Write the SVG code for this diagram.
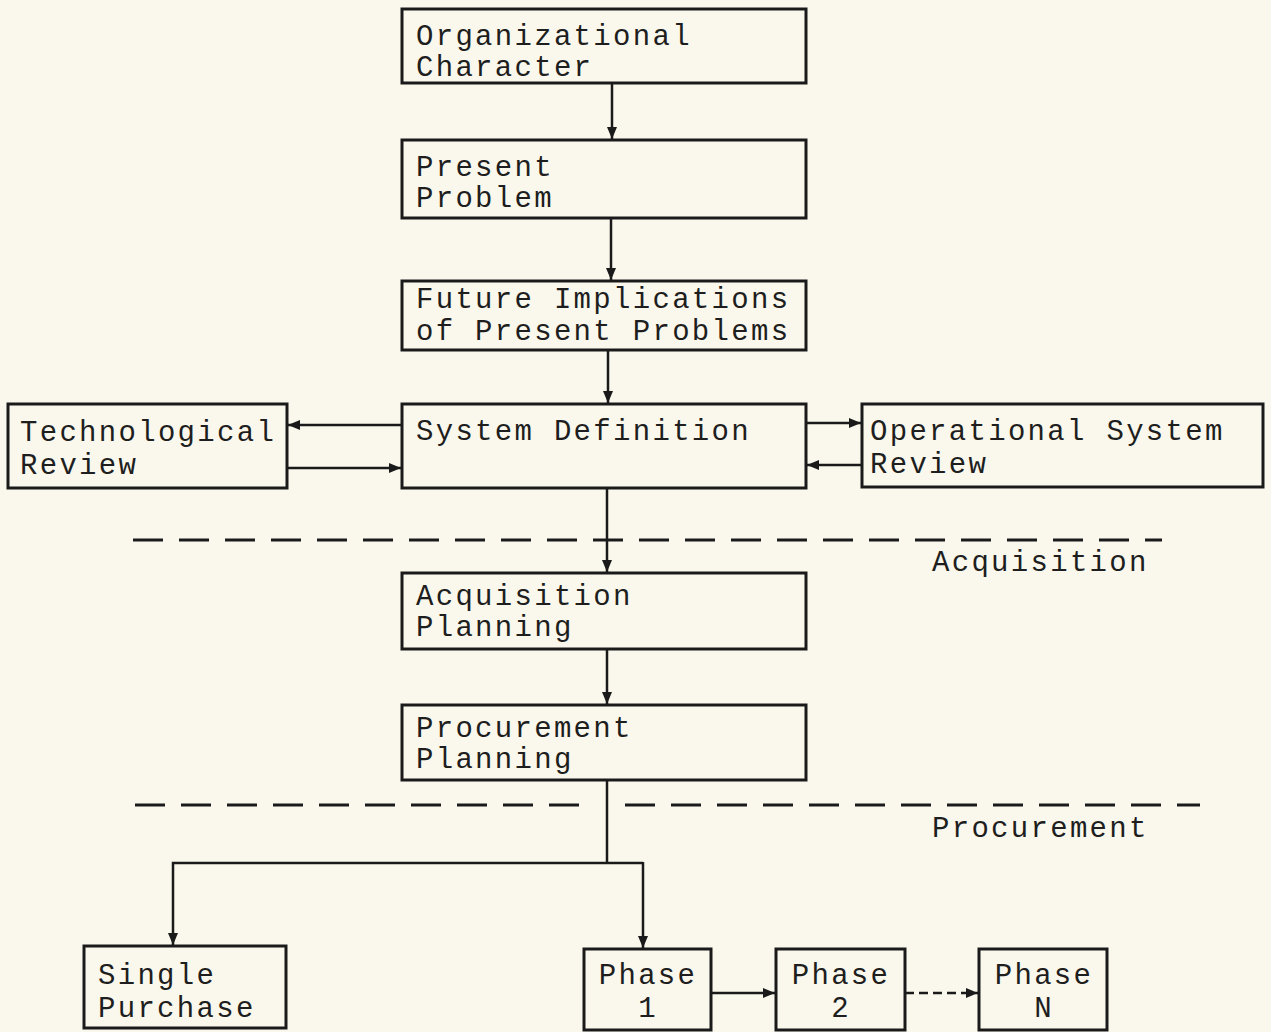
<svg xmlns="http://www.w3.org/2000/svg" width="1271" height="1032" viewBox="0 0 1271 1032">
<style>
.bg{fill:#faf8ec}
.box{fill:none;stroke:#1a1a1a;stroke-width:3}
.t{font-family:"Liberation Mono","DejaVu Sans Mono",monospace;font-size:29px;letter-spacing:2.3px;fill:#1e1e1e}
.c{text-anchor:middle}
.ln{fill:none;stroke:#1a1a1a;stroke-width:2.5}
.dash{fill:none;stroke:#1a1a1a;stroke-width:3;stroke-dasharray:30 16}
</style>
<defs>
<marker id="ah" viewBox="0 0 12 10" refX="12" refY="5" markerWidth="12" markerHeight="10" markerUnits="userSpaceOnUse" orient="auto">
<path d="M0,0 L12,5 L0,10 Z" fill="#1a1a1a"/>
</marker>
</defs>
<rect class="bg" x="0" y="0" width="1271" height="1032"/>

<g id="n-org"><rect class="box" x="402" y="9" width="404" height="74"/><text class="t" x="416" y="45">Organizational</text><text class="t" x="416" y="76">Character</text></g>
<g id="n-present"><rect class="box" x="402" y="140" width="404" height="78"/><text class="t" x="416" y="176">Present</text><text class="t" x="416" y="207">Problem</text></g>
<g id="n-future"><rect class="box" x="402" y="281" width="404" height="69"/><text class="t" x="416" y="308">Future Implications</text><text class="t" x="416" y="340">of Present Problems</text></g>
<g id="n-sysdef"><rect class="box" x="402" y="404" width="404" height="84"/><text class="t" x="416" y="440">System Definition</text></g>
<g id="n-tech"><rect class="box" x="8" y="404" width="279" height="84"/><text class="t" x="20" y="441">Technological</text><text class="t" x="20" y="474">Review</text></g>
<g id="n-ops"><rect class="box" x="862" y="404" width="401" height="83"/><text class="t" x="870" y="440">Operational System</text><text class="t" x="870" y="473">Review</text></g>
<g id="n-acq"><rect class="box" x="402" y="573" width="404" height="76"/><text class="t" x="416" y="605">Acquisition</text><text class="t" x="416" y="636">Planning</text></g>
<g id="n-proc"><rect class="box" x="402" y="705" width="404" height="75"/><text class="t" x="416" y="737">Procurement</text><text class="t" x="416" y="768">Planning</text></g>
<g id="n-single"><rect class="box" x="84" y="946" width="202" height="82"/><text class="t" x="98" y="984">Single</text><text class="t" x="98" y="1017">Purchase</text></g>
<g id="n-p1"><rect class="box" x="584" y="949" width="127" height="81"/><text class="t c" x="648" y="984">Phase</text><text class="t c" x="648" y="1017">1</text></g>
<g id="n-p2"><rect class="box" x="776" y="949" width="129" height="81"/><text class="t c" x="841" y="984">Phase</text><text class="t c" x="841" y="1017">2</text></g>
<g id="n-pn"><rect class="box" x="979" y="949" width="128" height="81"/><text class="t c" x="1044" y="984">Phase</text><text class="t c" x="1044" y="1017">N</text></g>

<g id="labels">
<text class="t" x="932" y="571">Acquisition</text>
<text class="t" x="932" y="837">Procurement</text>
</g>

<g id="connectors">
<path class="ln" d="M612,83 V139" marker-end="url(#ah)"/>
<path class="ln" d="M611,218 V280" marker-end="url(#ah)"/>
<path class="ln" d="M608,350 V403" marker-end="url(#ah)"/>
<path class="ln" d="M402,425 H288" marker-end="url(#ah)"/>
<path class="ln" d="M287,468 H401" marker-end="url(#ah)"/>
<path class="ln" d="M806,423 H861" marker-end="url(#ah)"/>
<path class="ln" d="M862,465 H807" marker-end="url(#ah)"/>
<path class="ln" d="M607,488 V572" marker-end="url(#ah)"/>
<path class="ln" d="M607,649 V704" marker-end="url(#ah)"/>
<path class="ln" d="M607,780 V863"/>
<path class="ln" d="M643,863 H173 V945" marker-end="url(#ah)"/>
<path class="ln" d="M643,862 V948" marker-end="url(#ah)"/>
<path class="ln" d="M711,993 H775" marker-end="url(#ah)"/>
<path class="ln" d="M905,993 H978" stroke-dasharray="9 5" marker-end="url(#ah)"/>
<path class="dash" d="M133,540 H1162"/>
<path class="dash" d="M135,805 H593 M625,805 H1200"/>
</g>
</svg>
